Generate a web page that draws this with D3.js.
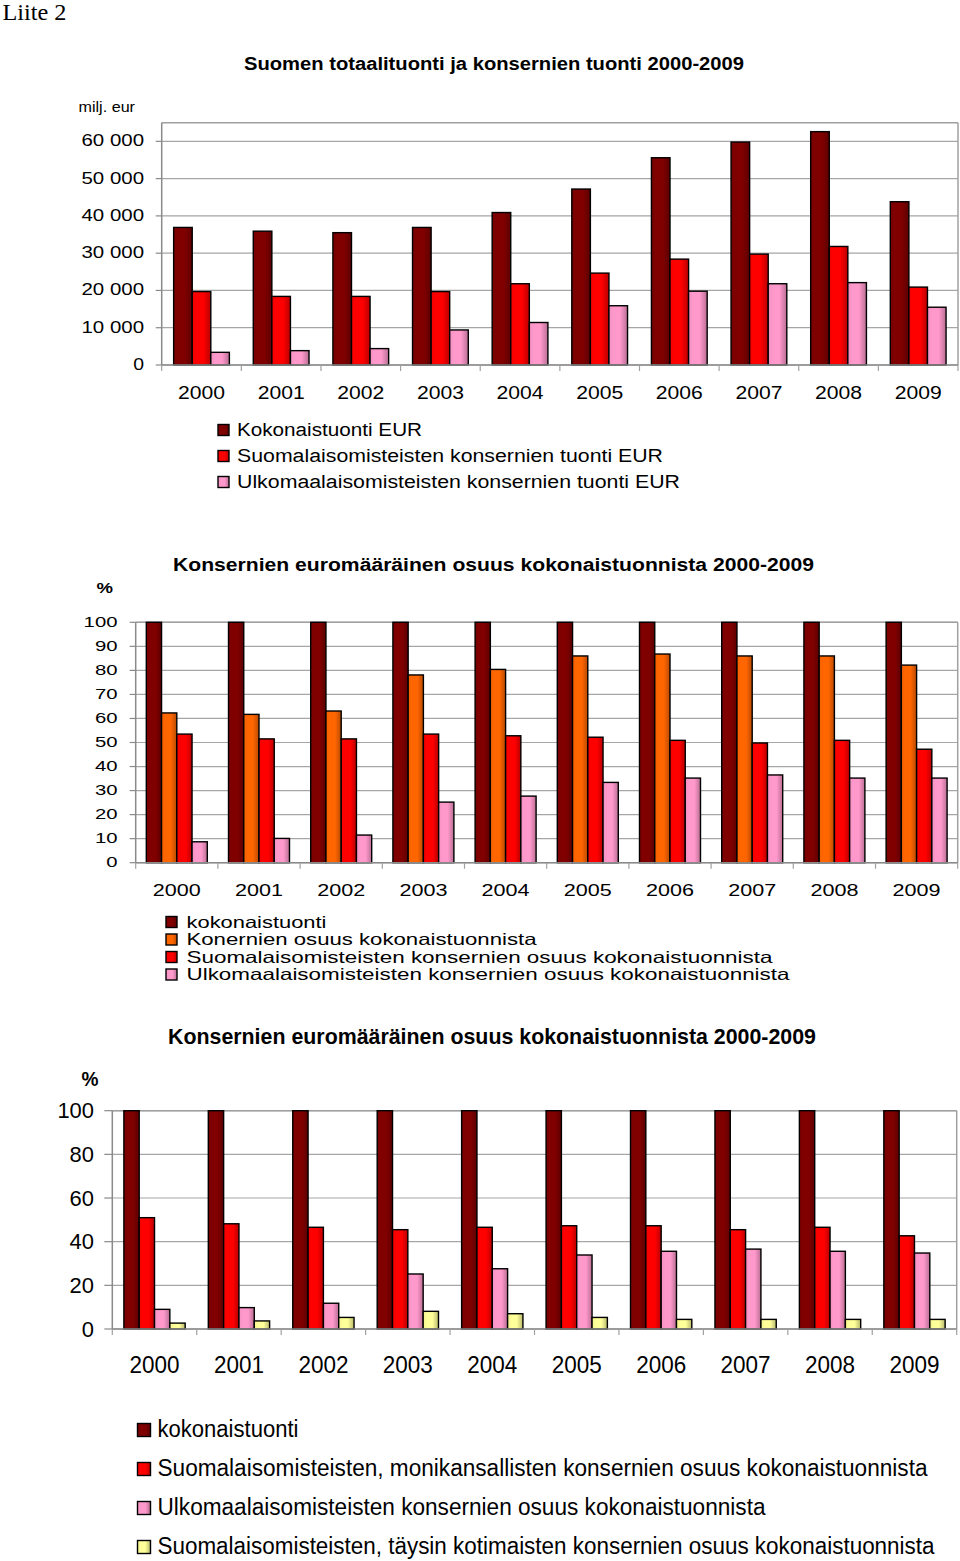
<!DOCTYPE html>
<html><head><meta charset="utf-8">
<script src="https://cdn.jsdelivr.net/npm/d3@7"></script>
<style>body{margin:0;background:#fff} svg{display:block}</style>
</head><body>
<svg id="c" width="960" height="1561"></svg>
<script>
// ---------- DATA ----------
const years = ["2000","2001","2002","2003","2004","2005","2006","2007","2008","2009"];

// Chart 1 (milj. eur)
const kokonaistuontiEUR = [36900,35900,35500,36900,40900,47200,55600,59800,62600,43800];
const suomalaisTuontiEUR = [19700,18400,18400,19700,21800,24650,28400,29750,31800,20900];
const ulkomaalaisTuontiEUR = [3400,3850,4400,9400,11400,15900,19800,21800,22100,15500];
const ticks1 = [0,10000,20000,30000,40000,50000,60000];
const tickLabels1 = ["0","10 000","20 000","30 000","40 000","50 000","60 000"];
const names1 = ["Kokonaistuonti EUR","Suomalaisomisteisten konsernien tuonti EUR","Ulkomaalaisomisteisten konsernien tuonti EUR"];

// Chart 2 (%)
const kokonais2 = [100,100,100,100,100,100,100,100,100,100];
const konsernit2 = [62.3,61.7,63.1,78.1,80.4,86.0,86.8,86.0,86.0,82.2];
const suomalais2 = [53.5,51.5,51.5,53.5,52.8,52.2,50.9,49.8,50.9,47.2];
const ulkomaalais2 = [8.7,10.1,11.5,25.2,27.7,33.4,35.2,36.5,35.2,35.2];
const ticks2 = [0,10,20,30,40,50,60,70,80,90,100];
const tickLabels2 = ["0","10","20","30","40","50","60","70","80","90","100"];
const names2 = ["kokonaistuonti","Konernien osuus kokonaistuonnista","Suomalaisomisteisten konsernien osuus kokonaistuonnista","Ulkomaalaisomisteisten konsernien osuus kokonaistuonnista"];

// Chart 3 (%)
const kokonais3 = [100,100,100,100,100,100,100,100,100,100];
const monikansalliset3 = [51.0,48.2,46.6,45.5,46.6,47.3,47.3,45.5,46.6,42.7];
const ulkomaalais3 = [9.0,9.8,11.8,25.2,27.6,33.9,35.6,36.6,35.6,34.8];
const kotimaiset3 = [2.7,3.7,5.3,8.1,7.0,5.3,4.4,4.4,4.4,4.4];
const ticks3 = [0,20,40,60,80,100];
const tickLabels3 = ["0","20","40","60","80","100"];
const names3 = ["kokonaistuonti","Suomalaisomisteisten, monikansallisten konsernien osuus kokonaistuonnista","Ulkomaalaisomisteisten konsernien osuus kokonaistuonnista","Suomalaisomisteisten, täysin kotimaisten konsernien osuus kokonaistuonnista"];

const titles = ["Suomen totaalituonti ja konsernien tuonti 2000-2009","Konsernien euromääräinen osuus kokonaistuonnista 2000-2009","Konsernien euromääräinen osuus kokonaistuonnista 2000-2009"];

// ---------- STYLE ----------
const COL = {dark:"#800000", red:"#ff0000", pink:"#ff99cc", orange:"#ff6600", yellow:"#ffff99"};
const FONT = "Arial, 'Liberation Sans', Helvetica, sans-serif";

const svg = d3.select("#c");
const defs = svg.append("defs");
Object.entries(COL).forEach(([k,c])=>{
  const g = defs.append("linearGradient").attr("id","g-"+k).attr("x1","0").attr("x2","1").attr("y1","0").attr("y2","0");
  const base = d3.color(c);
  g.append("stop").attr("offset","0").attr("stop-color", base.darker(0.15));
  g.append("stop").attr("offset","0.25").attr("stop-color", base);
  g.append("stop").attr("offset","0.6").attr("stop-color", base);
  g.append("stop").attr("offset","1").attr("stop-color", base.darker(0.9));
});

function txt(x,y,s,opt){
  const t = svg.append("text").attr("x",x).attr("y",y).text(s)
    .attr("font-family", opt.family||FONT).attr("font-size",opt.size)
    .attr("fill","#000");
  if(opt.weight) t.attr("font-weight",opt.weight);
  if(opt.anchor) t.attr("text-anchor",opt.anchor);
  if(opt.width) t.attr("textLength",opt.width).attr("lengthAdjust","spacingAndGlyphs");
  return t;
}

function drawChart(cfg){
  const x0 = d3.scaleBand().domain(years).range([cfg.left,cfg.right])
    .paddingInner(cfg.pad).paddingOuter(cfg.pad/2);
  const x1 = d3.scaleBand().domain(d3.range(cfg.series.length)).range([0,x0.bandwidth()]);
  const y = d3.scaleLinear().domain([0,cfg.max]).range([cfg.zeroY,cfg.topY]);
  const g = svg.append("g");
  // gridlines
  g.selectAll(".grid").data(cfg.ticks).enter().append("line")
    .attr("x1",cfg.left).attr("x2",cfg.right)
    .attr("y1",d=>y(d)).attr("y2",d=>y(d))
    .attr("stroke","#a6a6a6").attr("stroke-width",1.2);
  // frame top/right
  g.append("line").attr("x1",cfg.left).attr("x2",cfg.right).attr("y1",y(cfg.max)).attr("y2",y(cfg.max)).attr("stroke","#a0a0a0").attr("stroke-width",1.5);
  g.append("line").attr("x1",cfg.right).attr("x2",cfg.right).attr("y1",y(cfg.max)).attr("y2",y(0)).attr("stroke","#a0a0a0").attr("stroke-width",1.5);
  // left axis
  g.append("line").attr("x1",cfg.left).attr("x2",cfg.left).attr("y1",y(cfg.max)).attr("y2",y(0)).attr("stroke","#8a8a8a").attr("stroke-width",1.5);
  g.selectAll(".ytk").data(cfg.ticks).enter().append("line")
    .attr("x1",cfg.left-cfg.tickLen).attr("x2",cfg.left).attr("y1",d=>y(d)).attr("y2",d=>y(d))
    .attr("stroke","#8a8a8a").attr("stroke-width",1.2);
  // bars
  cfg.series.forEach((s,si)=>{
    g.selectAll(".b"+si).data(s.values).enter().append("rect")
      .attr("x",(d,i)=>x0(years[i])+x1(si))
      .attr("width",x1.bandwidth())
      .attr("y",d=>y(d)).attr("height",d=>y(0)-y(d))
      .attr("fill","url(#g-"+s.color+")")
      .attr("stroke","#000").attr("stroke-width",1.4);
  });
  // bottom axis
  g.append("line").attr("x1",cfg.left).attr("x2",cfg.right).attr("y1",y(0)).attr("y2",y(0)).attr("stroke","#8a8a8a").attr("stroke-width",1.5);
  const step = x0.step();
  g.selectAll(".xtk").data(d3.range(years.length+1)).enter().append("line")
    .attr("x1",i=>cfg.left+i*step).attr("x2",i=>cfg.left+i*step)
    .attr("y1",y(0)).attr("y2",y(0)+6).attr("stroke","#a0a0a0").attr("stroke-width",1.2);
  // tick labels
  cfg.ticks.forEach((t,i)=>{
    const lab = cfg.tickLabels[i];
    const w = lab.replace(/ /g,"").length*cfg.digitW + (lab.split(" ").length-1)*cfg.spaceW;
    txt(cfg.tickRight, y(t)+cfg.tickDy, lab, {size:cfg.tickSize, anchor:"end", width:w});
  });
  // year labels
  years.forEach(yr=>{
    txt(x0(yr)+x0.bandwidth()/2, cfg.yearY, yr, {size:cfg.yearSize, anchor:"middle", width:cfg.yearW});
  });
  // legend
  const L = cfg.legend;
  cfg.series.forEach((s,si)=>{
    const by = L.y0 + si*L.dy;
    svg.append("rect").attr("x",L.sqX).attr("y",by-L.sq+L.sqOff).attr("width",L.sq).attr("height",L.sq)
      .attr("fill","url(#g-"+s.color+")").attr("stroke","#000").attr("stroke-width",1.4);
    txt(L.textX, by, s.name, {size:L.size, width:L.widths[si]});
  });
}

// header
txt(2.5,20,"Liite 2",{size:23, family:"'Liberation Serif','Times New Roman',serif", width:64});

// ---------- CHART 1 ----------
txt(494,70,titles[0],{size:18, weight:"bold", anchor:"middle", width:500});
txt(78.5,112,"milj. eur",{size:14.5, width:56.5});
drawChart({
  left:161.7, right:958, topY:122.7, zeroY:365, max:65000, pad:0.3,
  ticks:ticks1, tickLabels:tickLabels1, tickLen:6,
  tickRight:144, tickDy:5, tickSize:17, digitW:10.8, spaceW:8.5,
  yearY:398.5, yearSize:17.5, yearW:47,
  series:[
    {values:kokonaistuontiEUR, color:"dark", name:names1[0]},
    {values:suomalaisTuontiEUR, color:"red", name:names1[1]},
    {values:ulkomaalaisTuontiEUR, color:"pink", name:names1[2]}
  ],
  legend:{sqX:218, sq:11, sqOff:0, y0:435.5, dy:26, textX:237, size:18, widths:[185,426,443]}
});

// ---------- CHART 2 ----------
txt(493.5,571,titles[1],{size:17.5, weight:"bold", anchor:"middle", width:641});
txt(96.5,593,"%",{size:15, weight:"bold", width:16.5});
drawChart({
  left:135.7, right:957.7, topY:622.3, zeroY:862.7, max:100, pad:0.258,
  ticks:ticks2, tickLabels:tickLabels2, tickLen:6,
  tickRight:117.5, tickDy:4.7, tickSize:14, digitW:11.3, spaceW:6,
  yearY:895.5, yearSize:17, yearW:48,
  series:[
    {values:kokonais2, color:"dark", name:names2[0]},
    {values:konsernit2, color:"orange", name:names2[1]},
    {values:suomalais2, color:"red", name:names2[2]},
    {values:ulkomaalais2, color:"pink", name:names2[3]}
  ],
  legend:{sqX:166, sq:11, sqOff:0, y0:927.5, dy:17.5, textX:186.5, size:16.5, widths:[140,350,586,603]}
});

// ---------- CHART 3 ----------
txt(492,1043.5,titles[2],{size:22.5, weight:"bold", anchor:"middle", width:648});
txt(81.5,1086,"%",{size:20, weight:"bold", width:17});
drawChart({
  left:112.3, right:956.7, topY:1110.7, zeroY:1329, max:100, pad:0.274,
  ticks:ticks3, tickLabels:tickLabels3, tickLen:8,
  tickRight:94, tickDy:7.5, tickSize:22.5, digitW:12.2, spaceW:6,
  yearY:1372.5, yearSize:23, yearW:50,
  series:[
    {values:kokonais3, color:"dark", name:names3[0]},
    {values:monikansalliset3, color:"red", name:names3[1]},
    {values:ulkomaalais3, color:"pink", name:names3[2]},
    {values:kotimaiset3, color:"yellow", name:names3[3]}
  ],
  legend:{sqX:137.5, sq:13, sqOff:0, y0:1436.5, dy:39, textX:157.5, size:23, widths:[141,770,608,777]}
});
</script>
</body></html>
